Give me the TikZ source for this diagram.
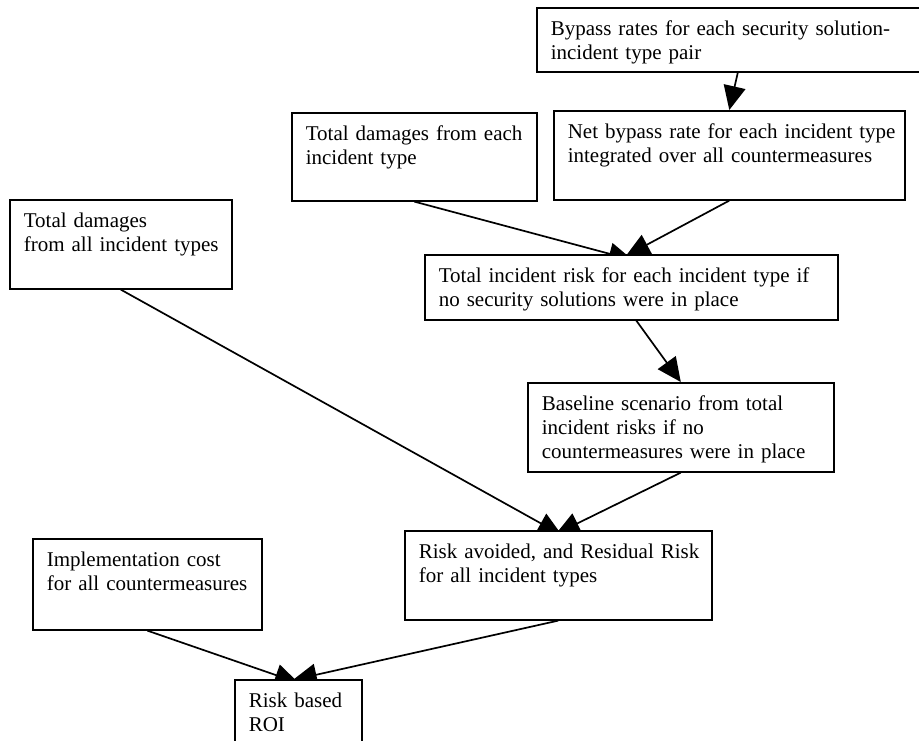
\documentclass[tikz,border=0pt]{standalone}
\usepackage{fontspec}
\setmainfont{Liberation Serif}
\usetikzlibrary{arrows.meta, backgrounds}

\begin{document}
\begin{tikzpicture}[
    x=1pt, y=-1pt,
    every node/.style={font=\fontsize{21}{24}\selectfont},
    block/.style={rectangle, draw=black, fill=white, line width=1.6pt,
                  anchor=north west, align=left, inner xsep=14pt,
                  inner ysep=0pt, text height=27.5pt,
                  execute at begin node={\linepenalty=10000
                      \rightskip=0pt plus 1fil minus 60pt}},
    arrow/.style={-{Triangle[length=24pt, width=22pt]}, line width=1.7pt}
]
\useasboundingbox (0,0) rectangle (919,740);
\begin{pgfonlayer}{background}
  \fill[white] (0,0) rectangle (919,740);
\end{pgfonlayer}

\node[block, text width=366pt, text depth=36.5pt] (bypass) at (536,7)
     {Bypass rates for each security solution-\\incident type pair};
\node[block, text width=323pt, text depth=61.5pt] (netbypass) at (553,110)
     {Net bypass rate for each incident type\\integrated over all countermeasures};
\node[block, text width=217pt, text depth=60.5pt] (dmgeach) at (291,112)
     {Total damages from each\\incident type};
\node[block, text width=194pt, text depth=61.5pt] (dmgall) at (9,199)
     {Total damages\\from all incident types};
\node[block, text width=385pt, text depth=37.5pt] (risk) at (424,254)
     {Total incident risk for each incident type if\\no security solutions were in place};
\node[block, text width=278pt, text depth=61.5pt] (baseline) at (527,382)
     {Baseline scenario from total\\incident risks if no\\countermeasures were in place};
\node[block, text width=279pt, text depth=61.5pt] (avoided) at (404,530)
     {Risk avoided, and Residual Risk\\for all incident types};
\node[block, text width=201pt, text depth=63.5pt] (impl) at (32,538)
     {Implementation cost\\for all countermeasures};
\node[block, text width=99pt, text depth=62.5pt] (roi) at (234,679)
     {Risk based\\ROI};

\begin{pgfonlayer}{background}
\draw[arrow] ([xshift=4pt]bypass.south) -- (netbypass.north);
\draw[arrow] (dmgeach.south)   -- ([xshift=1.5pt, yshift=-6pt]risk.north);
\draw[arrow] (netbypass.south) -- ([xshift=-5.5pt, yshift=-2pt]risk.north);
\draw[arrow] ([xshift=5pt]risk.south) -- (baseline.north);
\draw[arrow] (dmgall.south)    -- ([xshift=3.5pt, yshift=-5pt]avoided.north);
\draw[arrow] (baseline.south)  -- ([xshift=-2.5pt, yshift=-4pt]avoided.north);
\draw[arrow] (impl.south)      -- ([xshift=0.5pt, yshift=-4pt]roi.north);
\draw[arrow] (avoided.south)   -- ([xshift=-5.5pt, yshift=-1pt]roi.north);
\end{pgfonlayer}

\end{tikzpicture}
\end{document}
